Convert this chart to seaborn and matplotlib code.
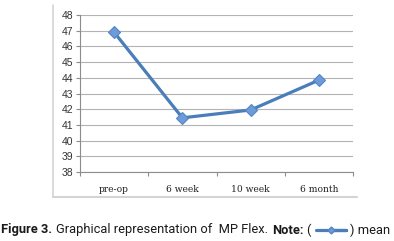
import matplotlib
matplotlib.use("Agg")
import matplotlib.pyplot as plt
from matplotlib.lines import Line2D
import pandas as pd
import seaborn as sns

# data
timepoints = ["pre-op", "6 week", "10 week", "6 month"]
mean_values = [46.9, 41.45, 41.95, 43.85]
y_ticks = [38, 39, 40, 41, 42, 43, 44, 45, 46, 47, 48]

df = pd.DataFrame({"time": timepoints, "mean": mean_values})

sns.set_style("white")
line_blue = "#4a7ebb"
grid_grey = "#b3b3b3"
W, H = 394, 241

fig = plt.figure(figsize=(W / 100, H / 100), dpi=100)
ax = fig.add_axes([80 / W, 1 - 172 / H, 273 / W, 157 / H])

sns.lineplot(data=df, x="time", y="mean", sort=False, ax=ax,
             color=line_blue, linewidth=2.3, marker="D", markersize=6,
             markerfacecolor="#6d9bd8", markeredgecolor="#5585c5",
             markeredgewidth=0.8)

ax.set_xlim(-0.5, len(timepoints) - 0.5)
ax.set_ylim(y_ticks[0], y_ticks[-1])
ax.set_yticks(y_ticks)
ax.set_xticks(range(len(timepoints)))
ax.set_xticklabels(timepoints, family="DejaVu Serif", fontsize=6.6)
ax.set_xticks([i - 0.5 for i in range(len(timepoints) + 1)], minor=True)
ax.tick_params(axis="x", which="major", length=0, pad=9)
ax.tick_params(axis="x", which="minor", length=3, width=0.8, color="#8c8c8c",
               direction="out", bottom=True)
ax.tick_params(axis="y", length=3, width=0.8, color="#8c8c8c",
               direction="out", left=True, pad=2, labelsize=7.5)
for lab in ax.get_yticklabels():
    lab.set_family("Liberation Sans")
    lab.set_color("#333333")
for lab in ax.get_xticklabels():
    lab.set_color("#222222")

ax.grid(axis="y", color=grid_grey, linewidth=0.8)
ax.set_axisbelow(True)
for side in ["top", "right"]:
    ax.spines[side].set_visible(False)
for side in ["left", "bottom"]:
    ax.spines[side].set_color("#8c8c8c")
    ax.spines[side].set_linewidth(0.8)
ax.set_xlabel("")
ax.set_ylabel("")

# chart frame (left and bottom edges only, like the figure)
fig.add_artist(Line2D([53 / W, 53 / W], [1 - 5 / H, 1 - 197 / H],
                      transform=fig.transFigure, color="#d4d4d4", linewidth=1.2))
fig.add_artist(Line2D([53 / W, 357 / W], [1 - 197 / H, 1 - 197 / H],
                      transform=fig.transFigure, color="#d4d4d4", linewidth=1.5))

# caption, pieces laid out one after the other
cy = 1 - 230 / H
cap = dict(family="Roboto", fontsize=9.3, va="center", color="#1a1a1a")
renderer = fig.canvas.get_renderer()
x = 1
pieces = [("Figure 3.", "bold", 4), ("Graphical representation of  MP Flex.", "normal", 4),
          ("Note:", "bold", 3), ("(", "normal", 5), (None, None, 4), (") mean", "normal", 0)]
for s, weight, gap in pieces:
    if s is None:
        fig.add_artist(Line2D([x / W, (x + 30) / W, (x + 15) / W], [cy, cy, cy],
                              transform=fig.transFigure, color=line_blue,
                              linewidth=2.3, marker="D", markersize=3.5,
                              markevery=[2], markerfacecolor="#6d9bd8",
                              markeredgecolor="#5585c5"))
        x += 30 + gap
        continue
    t = fig.text(x / W, cy, s, fontweight=weight, **cap)
    x += t.get_window_extent(renderer).width + gap

fig.savefig("out.png", dpi=100)
